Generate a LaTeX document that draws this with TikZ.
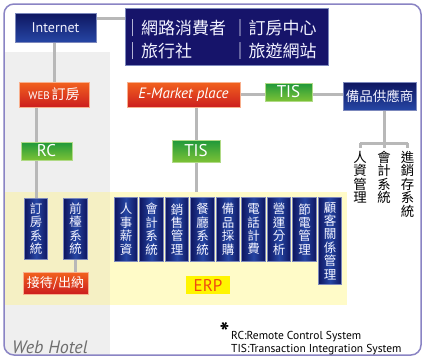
\documentclass[tikz,border=0pt]{standalone}
\usepackage{fontspec}
\setmainfont{PT Sans}
\newfontfamily\cjk{Noto Sans CJK TC}
\pgfdeclarelayer{bglayer}
\pgfdeclarelayer{connlayer}
\pgfsetlayers{bglayer,connlayer,main}
\definecolor{framec}{HTML}{8A84C4}
\definecolor{grayreg}{HTML}{EFEFEF}
\definecolor{yelreg}{HTML}{FFFBC8}
\definecolor{yelgray}{HTML}{F5F0C4}
\definecolor{connc}{HTML}{B8B8B8}
\definecolor{navyA}{HTML}{16146A}
\definecolor{navyB}{HTML}{1E1C7A}
\definecolor{blueA}{HTML}{0E1660}
\definecolor{blueB}{HTML}{2646A4}
\definecolor{blueE}{HTML}{7C88BC}
\definecolor{orA}{HTML}{F2621E}
\definecolor{orB}{HTML}{CC1E1E}
\definecolor{grA}{HTML}{1F983A}
\definecolor{grB}{HTML}{7CC236}
\definecolor{erpY}{HTML}{FFF500}
\definecolor{erpT}{HTML}{F04A10}
\definecolor{labgray}{HTML}{6E6E6E}
\definecolor{txtw}{HTML}{F2F2FF}
\begin{document}
\begin{tikzpicture}[x=1pt,y=-1pt,
  conn/.style={draw=connc, line width=3pt},
  bluebox/.style={shading=axis, top color=blueA, bottom color=blueB, draw=blueE, line width=0.5pt, text=txtw, inner sep=0pt},
  orbox/.style={shading=axis, top color=orA, bottom color=orB, draw=orA!50!white, line width=0.5pt, text=white, inner sep=0pt},
  grbox/.style={shading=axis, top color=grA, bottom color=grB, draw=grB!60!white, line width=0.5pt, text=white, inner sep=0pt, font=\fontsize{17}{19}\selectfont},
  vbox/.style={shading=axis, left color=blueA, right color=blueA, middle color=blueB, draw=blueE, line width=0.6pt, text=txtw, font=\cjk\fontsize{12.5}{13.4}\selectfont, align=center, inner sep=0pt, minimum width=23.5pt, anchor=north},
  bigtxt/.style={text=txtw, font=\cjk\fontsize{17}{19}\selectfont, inner sep=0pt, anchor=base west},
  sidelab/.style={text=black, font=\cjk\fontsize{13.4}{13.4}\selectfont, align=center, inner sep=0pt, anchor=north},
  foot/.style={text=black, font=\fontsize{11.5}{13}\selectfont, inner sep=0pt, anchor=base west}
]
\useasboundingbox (0,0) rectangle (425,360);
\begin{pgfonlayer}{bglayer}
\fill[white] (0,0) rectangle (425,360);
\begin{scope}
\clip[rounded corners=10pt] (4,4) rectangle (421,355);
\fill[grayreg] (4,52) rectangle (110,356);
\fill[yelreg] (110,192) rectangle (347,305);
\fill[yelgray] (4,192) rectangle (110,305);
\end{scope}
\draw[framec, line width=1.5pt, rounded corners=10pt] (4,4) rectangle (421,355);
\end{pgfonlayer}

% top boxes
\node[bluebox, minimum width=81pt, minimum height=29pt, font=\fontsize{14}{16}\selectfont] (inet) at (55.5,27.5) {Internet};
\node[draw=blueE, fill=navyA, line width=0.6pt, minimum width=203pt, minimum height=57pt, inner sep=0pt] (big) at (226.5,36.5) {};
\node[bigtxt] (b1) at (124,34.5) {｜網路消費者};
\node[bigtxt] (b2) at (231.5,34.5) {｜訂房中心};
\node[bigtxt] (b3) at (124,57.5) {｜旅行社};
\node[bigtxt] (b4) at (231.5,57.5) {｜旅遊網站};

\node[orbox, minimum width=70pt, minimum height=25pt] (web) at (54,94.5) {{\fontsize{11}{13}\selectfont WEB}\,{\cjk\fontsize{14}{16}\selectfont 訂房}};
\node[orbox, minimum width=113pt, minimum height=25pt, font=\itshape\fontsize{15}{17}\selectfont] (em) at (183.5,94.5) {E-Market place};
\node[grbox, minimum width=47pt, minimum height=18pt] (tis1) at (288.5,92) {TIS};
\node[bluebox, minimum width=73pt, minimum height=28pt, font=\cjk\fontsize{13.5}{15}\selectfont] (bp) at (379.5,96) {備品供應商};

\node[grbox, minimum width=51pt, minimum height=18pt] (rc) at (46.5,151) {RC};
\node[grbox, minimum width=48pt, minimum height=22pt] (tis2) at (196,151) {TIS};

% supplier labels
\node[sidelab] (hr) at (360,151) {人\\資\\管\\理};
\node[sidelab] (acc) at (384,151) {會\\計\\系\\統};
\node[sidelab] (jxc) at (407.5,151) {進\\銷\\存\\系\\統};

% web hotel boxes
\node[vbox, minimum height=61pt] (dfxt) at (36,198) {訂\\房\\系\\統};
\node[vbox, minimum height=61pt] (qtxt) at (75.5,198) {前\\檯\\系\\統};
\node[orbox, minimum width=65pt, minimum height=22pt, font=\cjk\fontsize{13}{15}\selectfont] (jd) at (55.5,283) {接待/出納};

% ERP boxes
\node[vbox, minimum height=64pt] (e1) at (126,197) {人\\事\\薪\\資};
\node[vbox, minimum height=64pt] (e2) at (151.5,197) {會\\計\\系\\統};
\node[vbox, minimum height=64pt] (e3) at (177,197) {銷\\售\\管\\理};
\node[vbox, minimum height=64pt] (e4) at (202.5,197) {餐\\廳\\系\\統};
\node[vbox, minimum height=64pt] (e5) at (228,197) {備\\品\\採\\購};
\node[vbox, minimum height=64pt] (e6) at (253.5,197) {電\\話\\計\\費};
\node[vbox, minimum height=64pt] (e7) at (279,197) {營\\運\\分\\析};
\node[vbox, minimum height=64pt] (e8) at (304.5,197) {節\\電\\管\\理};
\node[vbox, minimum height=87pt] (e9) at (330,197) {顧\\客\\關\\係\\管\\理};
\node[fill=erpY, text=erpT, minimum width=44pt, minimum height=18pt, inner sep=0pt, font=\fontsize{17}{19}\selectfont] (erp) at (208,285) {ERP};

% labels
\node[text=labgray, font=\itshape\fontsize{18}{20}\selectfont, inner sep=0pt, anchor=base west] (wh) at (12,353) {Web Hotel};
\node[text=black, font=\bfseries\fontsize{26}{26}\selectfont, inner sep=0pt, anchor=north] (ast) at (224.5,322) {*};
\node[foot] (f1) at (231,339) {RC:Remote Control System};
\node[foot] (f2) at (231,352) {TIS:Transaction Integration System};

% connectors
\coordinate (j1) at (96,18);
\coordinate (h) at (0,94);
\coordinate (erptop) at (196,192);
\coordinate (br) at (384,143);
\begin{pgfonlayer}{connlayer}
\draw[conn] (inet.east |- j1) -- (big.west |- j1);
\draw[conn] (web.north) -- (web.north |- inet.south);
\draw[conn] (dfxt.north) -- (dfxt.north |- web.south);
\draw[conn] (qtxt.south) -- (qtxt.south |- jd.north);
\draw[conn] (em.east |- h) -- (tis1.west |- h);
\draw[conn] (tis1.east |- h) -- (bp.west |- h);
\draw[conn] (tis2.north) -- (tis2.north |- em.south);
\draw[conn] (tis2.south) -- (erptop);
\draw[conn] (br |- bp.south) -- (br);
\draw[conn, shorten >=3pt] (hr.north |- br) -- (hr.north);
\draw[conn] (hr.north |- br) -- (jxc.north |- br);
\draw[conn, shorten >=3pt] (jxc.north |- br) -- (jxc.north);
\draw[conn, shorten >=3pt] (br) -- (acc.north);
\end{pgfonlayer}
\end{tikzpicture}
\end{document}
